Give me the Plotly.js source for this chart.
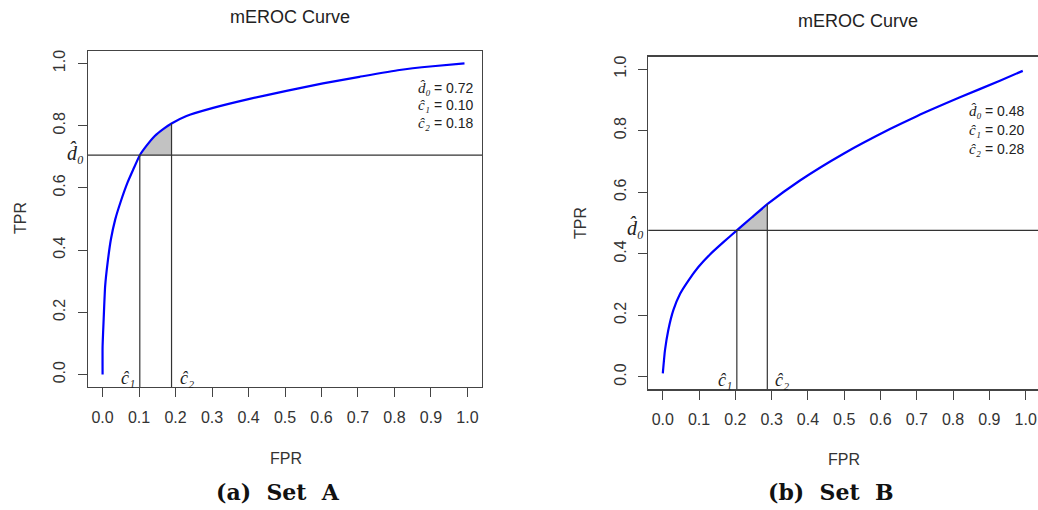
<!DOCTYPE html>
<html>
<head>
<meta charset="utf-8">
<script src="https://cdn.plot.ly/plotly-3.0.1.min.js"></script>
<style>html,body{margin:0;padding:0;background:#fff;}#chart{width:1038px;height:510px;}</style>
</head>
<body>
<div id="chart"></div>
<script>
// ---- Data ----
// Set A curve
const fprA = [0, 0, 0.003, 0.007, 0.0137, 0.0227, 0.0345, 0.050, 0.068, 0.084, 0.102, 0.120, 0.143, 0.166, 0.189, 0.230, 0.303, 0.403, 0.504, 0.604, 0.704, 0.814, 0.905, 0.992];
const tprA = [0, 0.090, 0.180, 0.284, 0.359, 0.434, 0.498, 0.557, 0.616, 0.659, 0.705, 0.735, 0.767, 0.789, 0.807, 0.831, 0.857, 0.886, 0.912, 0.936, 0.957, 0.979, 0.991, 1.0];
// Set B curve
const fprB = [0, 0.006, 0.015, 0.029, 0.048, 0.071, 0.098, 0.130, 0.167, 0.204, 0.245, 0.288, 0.378, 0.498, 0.626, 0.700, 0.819, 0.929, 0.992];
const tprB = [0.012, 0.087, 0.152, 0.217, 0.271, 0.314, 0.357, 0.398, 0.438, 0.476, 0.518, 0.561, 0.638, 0.725, 0.805, 0.847, 0.908, 0.962, 0.994];
// Thresholds (drawn positions) and printed estimates
const d0A = 0.705, c1A = 0.102, c2A = 0.189;
const d0B = 0.476, c1B = 0.204, c2B = 0.288;
const statsA = ["0.72", "0.10", "0.18"];
const statsB = ["0.48", "0.20", "0.28"];
const xTicks = [0, 0.1, 0.2, 0.3, 0.4, 0.5, 0.6, 0.7, 0.8, 0.9, 1.0];
const yTicks = [0, 0.2, 0.4, 0.6, 0.8, 1.0];
const captions = ["(a)  Set  A", "(b)  Set  B"];
const plotTitle = "mEROC Curve";

// ---- helpers ----
const W = 1038, H = 510;
const px = v => v / W, py = v => 1 - v / H;
const curveAt = (xs, ys, c) => ys[xs.indexOf(c)];
function shade(xs, ys, c1, c2, d0) {
  const sx = [], sy = [];
  xs.forEach((x, i) => { if (x >= c1 && x <= c2) { sx.push(x); sy.push(ys[i]); } });
  sx.push(c2, c1); sy.push(d0, d0);
  return {x: sx, y: sy};
}
const shA = shade(fprA, tprA, c1A, c2A, d0A);
const shB = shade(fprB, tprB, c1B, c2B, d0B);

const blue = '#0000ff';
const traces = [
  {x: shA.x, y: shA.y, xaxis: 'x', yaxis: 'y', mode: 'lines', fill: 'toself', fillcolor: 'rgb(194,194,194)', line: {width: 0}, hoverinfo: 'skip'},
  {x: fprA, y: tprA, xaxis: 'x', yaxis: 'y', mode: 'lines', line: {color: blue, width: 2.2, shape: 'spline', smoothing: 0.5}},
  {x: shB.x, y: shB.y, xaxis: 'x2', yaxis: 'y2', mode: 'lines', fill: 'toself', fillcolor: 'rgb(194,194,194)', line: {width: 0}, hoverinfo: 'skip'},
  {x: fprB, y: tprB, xaxis: 'x2', yaxis: 'y2', mode: 'lines', line: {color: blue, width: 2.2, shape: 'spline', smoothing: 0.5}}
];

const tickFont = {family: 'Liberation Sans, Arial, sans-serif', size: 16, color: '#333'};
const axBase = {showgrid: false, zeroline: false, showline: true, linecolor: '#444', linewidth: 1.3,
  ticks: 'outside', ticklen: 9, tickwidth: 1, tickcolor: '#444', tickfont: tickFont, tickformat: '.1f', fixedrange: true};

const lineC = {color: '#333', width: 1.2};
function vline(xr, yr, c, top, ymin) {
  return {type: 'line', xref: xr, yref: yr, x0: c, x1: c, y0: ymin, y1: top, line: lineC, layer: 'above'};
}
function hline(xr, yr, d) {
  return {type: 'line', xref: xr + ' domain', yref: yr, x0: 0, x1: 1, y0: d, y1: d, line: lineC, layer: 'above'};
}

const shapes = [
  hline('x', 'y', d0A), vline('x', 'y', c1A, d0A, -0.04), vline('x', 'y', c2A, curveAt(fprA, tprA, c2A), -0.04),
  hline('x2', 'y2', d0B), vline('x2', 'y2', c1B, d0B, -0.04), vline('x2', 'y2', c2B, curveAt(fprB, tprB, c2B), -0.04)
];

const labFont = {family: 'Liberation Sans, Arial, sans-serif', size: 16, color: '#333'};
const mathFont = {family: 'Liberation Serif, DejaVu Serif, serif', size: 20, color: '#222', style: 'italic'};
const symFont = {family: 'Liberation Serif, DejaVu Serif, serif', size: 15, color: '#222', style: 'italic'};
const statFont = {family: 'Liberation Sans, Arial, sans-serif', size: 14, color: '#222'};
const HAT = '\u0302';
const SUB = ['\u2080', '\u2081', '\u2082'];

function panelAnn(xr, yr, d0, c1, c2, stats, sx, sy) {
  const out = [];
  out.push({xref: xr + ' domain', yref: yr, x: 0, y: d0, xanchor: 'right', yanchor: 'middle', xshift: -2, yshift: 3,
    text: 'd' + HAT + SUB[0], showarrow: false, font: mathFont});
  out.push({xref: xr, yref: yr, x: c1, y: -0.01, xanchor: 'right', yanchor: 'middle', xshift: -3,
    text: 'c' + HAT + SUB[1], showarrow: false, font: {...mathFont, size: 18}});
  out.push({xref: xr, yref: yr, x: c2, y: -0.01, xanchor: 'left', yanchor: 'middle', xshift: 6,
    text: 'c' + HAT + SUB[2], showarrow: false, font: {...mathFont, size: 18}});
  const names = ['d', 'c', 'c'];
  for (let i = 0; i < 3; i++) {
    out.push({xref: xr, yref: yr, x: sx, y: sy[i], xanchor: 'left', yanchor: 'middle',
      text: names[i] + HAT + SUB[i], showarrow: false, font: symFont});
    out.push({xref: xr, yref: yr, x: sx, y: sy[i], xanchor: 'left', yanchor: 'middle', xshift: 16,
      text: '= ' + stats[i], showarrow: false, font: statFont});
  }
  return out;
}

const annotations = [
  ...panelAnn('x', 'y', d0A, c1A, c2A, statsA, 0.86, [0.92, 0.866, 0.809]),
  ...panelAnn('x2', 'y2', d0B, c1B, c2B, statsB, 0.837, [0.863, 0.802, 0.739]),
  {xref: 'paper', yref: 'paper', x: px(290), y: py(17), text: plotTitle, showarrow: false, xanchor: 'center', yanchor: 'middle', font: {family: 'Liberation Sans, Arial, sans-serif', size: 18, color: '#222'}},
  {xref: 'paper', yref: 'paper', x: px(858), y: py(21), text: plotTitle, showarrow: false, xanchor: 'center', yanchor: 'middle', font: {family: 'Liberation Sans, Arial, sans-serif', size: 18, color: '#222'}},
  {xref: 'paper', yref: 'paper', x: px(20), y: py(218), text: 'TPR', textangle: -90, showarrow: false, xanchor: 'center', yanchor: 'middle', font: labFont},
  {xref: 'paper', yref: 'paper', x: px(580), y: py(223), text: 'TPR', textangle: -90, showarrow: false, xanchor: 'center', yanchor: 'middle', font: labFont},
  {xref: 'paper', yref: 'paper', x: px(286), y: py(458), text: 'FPR', showarrow: false, xanchor: 'center', yanchor: 'middle', font: labFont},
  {xref: 'paper', yref: 'paper', x: px(844), y: py(459), text: 'FPR', showarrow: false, xanchor: 'center', yanchor: 'middle', font: labFont},
  {xref: 'paper', yref: 'paper', x: px(278), y: py(492), text: captions[0], showarrow: false, xanchor: 'center', yanchor: 'middle', font: {family: 'DejaVu Serif, serif', size: 22, color: '#111', weight: 'bold'}},
  {xref: 'paper', yref: 'paper', x: px(830), y: py(492), text: captions[1], showarrow: false, xanchor: 'center', yanchor: 'middle', font: {family: 'DejaVu Serif, serif', size: 22, color: '#111', weight: 'bold'}}
];

const layout = {
  width: W, height: H, margin: {l: 0, r: 0, t: 0, b: 0}, paper_bgcolor: '#fff', plot_bgcolor: '#fff',
  showlegend: false,
  xaxis: {...axBase, domain: [px(88), px(482)], range: [-0.04, 1.04], tickvals: xTicks, mirror: true, anchor: 'y', ticklabelstandoff: 6},
  yaxis: {...axBase, domain: [py(387), py(51)], range: [-0.04, 1.04], tickvals: yTicks, mirror: true, anchor: 'x', tickangle: -90, ticklabelstandoff: 6},
  xaxis2: {...axBase, domain: [px(648.3), 1], range: [-0.04, 1.034], tickvals: xTicks, mirror: true, anchor: 'y2', ticklabelstandoff: 6},
  yaxis2: {...axBase, domain: [py(389.3), py(56.7)], range: [-0.04, 1.04], tickvals: yTicks, mirror: false, anchor: 'x2', tickangle: -90, ticklabelstandoff: 6},
  shapes: shapes, annotations: annotations
};

Plotly.newPlot('chart', traces, layout, {displayModeBar: false, staticPlot: true});
</script>
</body>
</html>
